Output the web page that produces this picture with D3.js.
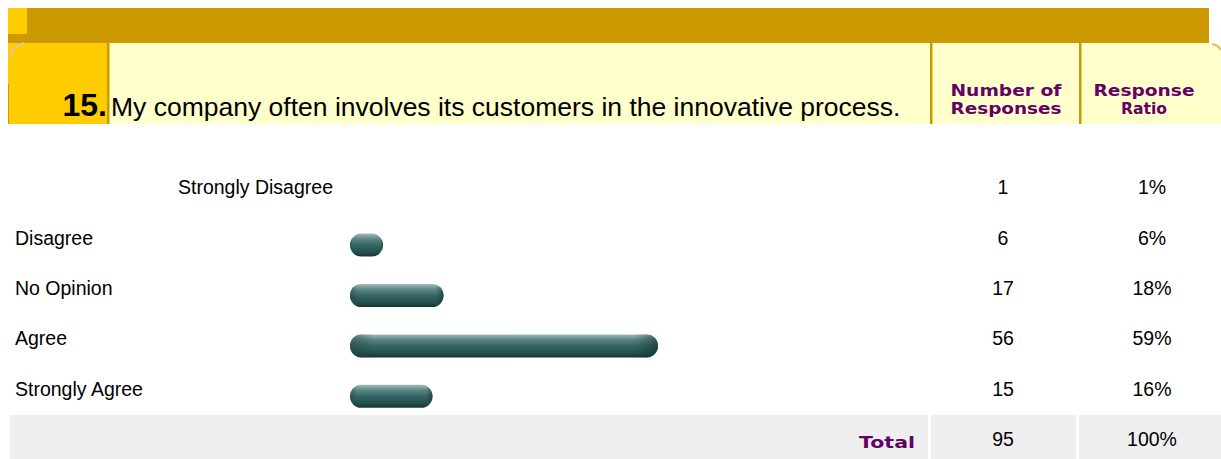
<!DOCTYPE html>
<html>
<head>
<meta charset="utf-8">
<script src="https://cdn.jsdelivr.net/npm/d3@7"></script>
<style>
  body { margin: 0; background: #fff; }
  text { font-family: Arial, "Liberation Sans", sans-serif; }
  .purple { font-family: "DejaVu Sans", Verdana, sans-serif; font-weight: bold; fill: #660066; }
</style>
</head>
<body>
<svg id="chart" width="1221" height="459"></svg>
<script>
// data
const questionNo = "15.";
const question = "My company often involves its customers in the innovative process.";
const categories = ["Strongly Disagree", "Disagree", "No Opinion", "Agree", "Strongly Agree"];
const responses = [1, 6, 17, 56, 15];
const ratios = ["1%", "6%", "18%", "59%", "16%"];
const totalCount = 95;
const totalRatio = "100%";

const svg = d3.select("#chart");
const fs = 19.5;

// gradients for the bar "pills"
const defs = svg.append("defs");
const g1 = defs.append("linearGradient").attr("id", "barGrad")
    .attr("x1", 0).attr("y1", 0).attr("x2", 0).attr("y2", 1);
[["0%", "#a3bdbb"], ["22%", "#5e8886"], ["50%", "#336664"], ["80%", "#25504e"], ["100%", "#173534"]]
    .forEach(s => g1.append("stop").attr("offset", s[0]).attr("stop-color", s[1]));
const g2 = defs.append("linearGradient").attr("id", "capGrad")
    .attr("x1", 0).attr("y1", 0).attr("x2", 1).attr("y2", 0);
[["0%", "#1e4443", 0.55], ["8%", "#1e4443", 0], ["92%", "#1e4443", 0], ["100%", "#102a29", 0.6]]
    .forEach(s => g2.append("stop").attr("offset", s[0]).attr("stop-color", s[1]).attr("stop-opacity", s[2]));

// ---- header ----
svg.append("rect").attr("x", 8).attr("y", 8).attr("width", 1201).attr("height", 35).attr("fill", "#cc9900");
svg.append("rect").attr("x", 8).attr("y", 8).attr("width", 19).attr("height", 26).attr("fill", "#ffcc00");
svg.append("rect").attr("x", 8).attr("y", 43).attr("width", 1213).attr("height", 81).attr("fill", "#ffffcc");
svg.append("rect").attr("x", 8).attr("y", 43).attr("width", 99).attr("height", 81).attr("fill", "#ffcc00");
svg.append("path").attr("d", "M9,58 Q12,47 24,43").attr("fill", "none")
    .attr("stroke", "#e0c890").attr("stroke-width", 2);
svg.append("path").attr("d", "M1212,44 Q1218,45 1221,50").attr("fill", "none")
    .attr("stroke", "#d9b870").attr("stroke-width", 2);
[107, 930, 1079].forEach(x =>
  svg.append("rect").attr("x", x).attr("y", 43).attr("width", 2.5).attr("height", 81).attr("fill", "#cc9900"));
svg.append("rect").attr("x", 8).attr("y", 84).attr("width", 1).attr("height", 40).attr("fill", "#cc9900");

svg.append("text").attr("x", 107).attr("y", 116).attr("text-anchor", "end")
    .attr("font-size", 32).attr("font-weight", "bold").attr("fill", "#000").text(questionNo);
svg.append("text").attr("x", 111).attr("y", 116)
    .attr("font-size", 26.5).attr("fill", "#000").text(question);

const hdr = [
  {x: 1006, lines: ["Number of", "Responses"], w: [111, 111]},
  {x: 1144, lines: ["Response", "Ratio"], w: [101, 46]}
];
hdr.forEach(h => h.lines.forEach((t, i) =>
  svg.append("text").attr("class", "purple").attr("x", h.x).attr("y", 96 + i * 18)
     .attr("text-anchor", "middle").attr("font-size", 16.5)
     .attr("textLength", h.w[i]).attr("lengthAdjust", "spacingAndGlyphs").text(t)));

// ---- rows ----
const y = d3.scaleBand().domain(categories).range([162, 414]);
const x = d3.scaleLinear().domain([0, 56]).range([0, 308]);
const barX = 350, barH = 23;

const rows = svg.append("g").selectAll("g").data(categories).join("g")
    .attr("transform", d => `translate(0,${y(d) + y.bandwidth() / 2})`);

// the first row renders its label shifted into the bar column and without a bar
rows.append("text")
    .attr("x", (d, i) => i === 0 ? 178 : 15).attr("y", 7)
    .attr("font-size", fs).attr("fill", "#000").text(d => d);

const bars = rows.filter((d, i) => i > 0);
bars.append("rect").attr("x", barX).attr("y", -4).attr("height", barH)
    .attr("width", (d) => x(responses[categories.indexOf(d)]))
    .attr("rx", 11).attr("ry", 11.5).attr("fill", "url(#barGrad)");
bars.append("rect").attr("x", barX).attr("y", -4).attr("height", barH)
    .attr("width", (d) => x(responses[categories.indexOf(d)]))
    .attr("rx", 11).attr("ry", 11.5).attr("fill", "url(#capGrad)");

rows.append("text").attr("x", 1003).attr("y", 7).attr("text-anchor", "middle")
    .attr("font-size", fs).attr("fill", "#000").text((d, i) => responses[i]);
rows.append("text").attr("x", 1152).attr("y", 7).attr("text-anchor", "middle")
    .attr("font-size", fs).attr("fill", "#000").text((d, i) => ratios[i]);

// ---- total row ----
[[10, 918], [931, 145], [1079, 142]].forEach(r =>
  svg.append("rect").attr("x", r[0]).attr("y", 415).attr("width", r[1]).attr("height", 44).attr("fill", "#efefef"));
svg.append("text").attr("class", "purple").attr("x", 915).attr("y", 448).attr("text-anchor", "end")
    .attr("font-size", 16.5).attr("textLength", 56).attr("lengthAdjust", "spacingAndGlyphs").text("Total");
svg.append("text").attr("x", 1003).attr("y", 446).attr("text-anchor", "middle")
    .attr("font-size", fs).attr("fill", "#000").text(totalCount);
svg.append("text").attr("x", 1152).attr("y", 446).attr("text-anchor", "middle")
    .attr("font-size", fs).attr("fill", "#000").text(totalRatio);
</script>
</body>
</html>
